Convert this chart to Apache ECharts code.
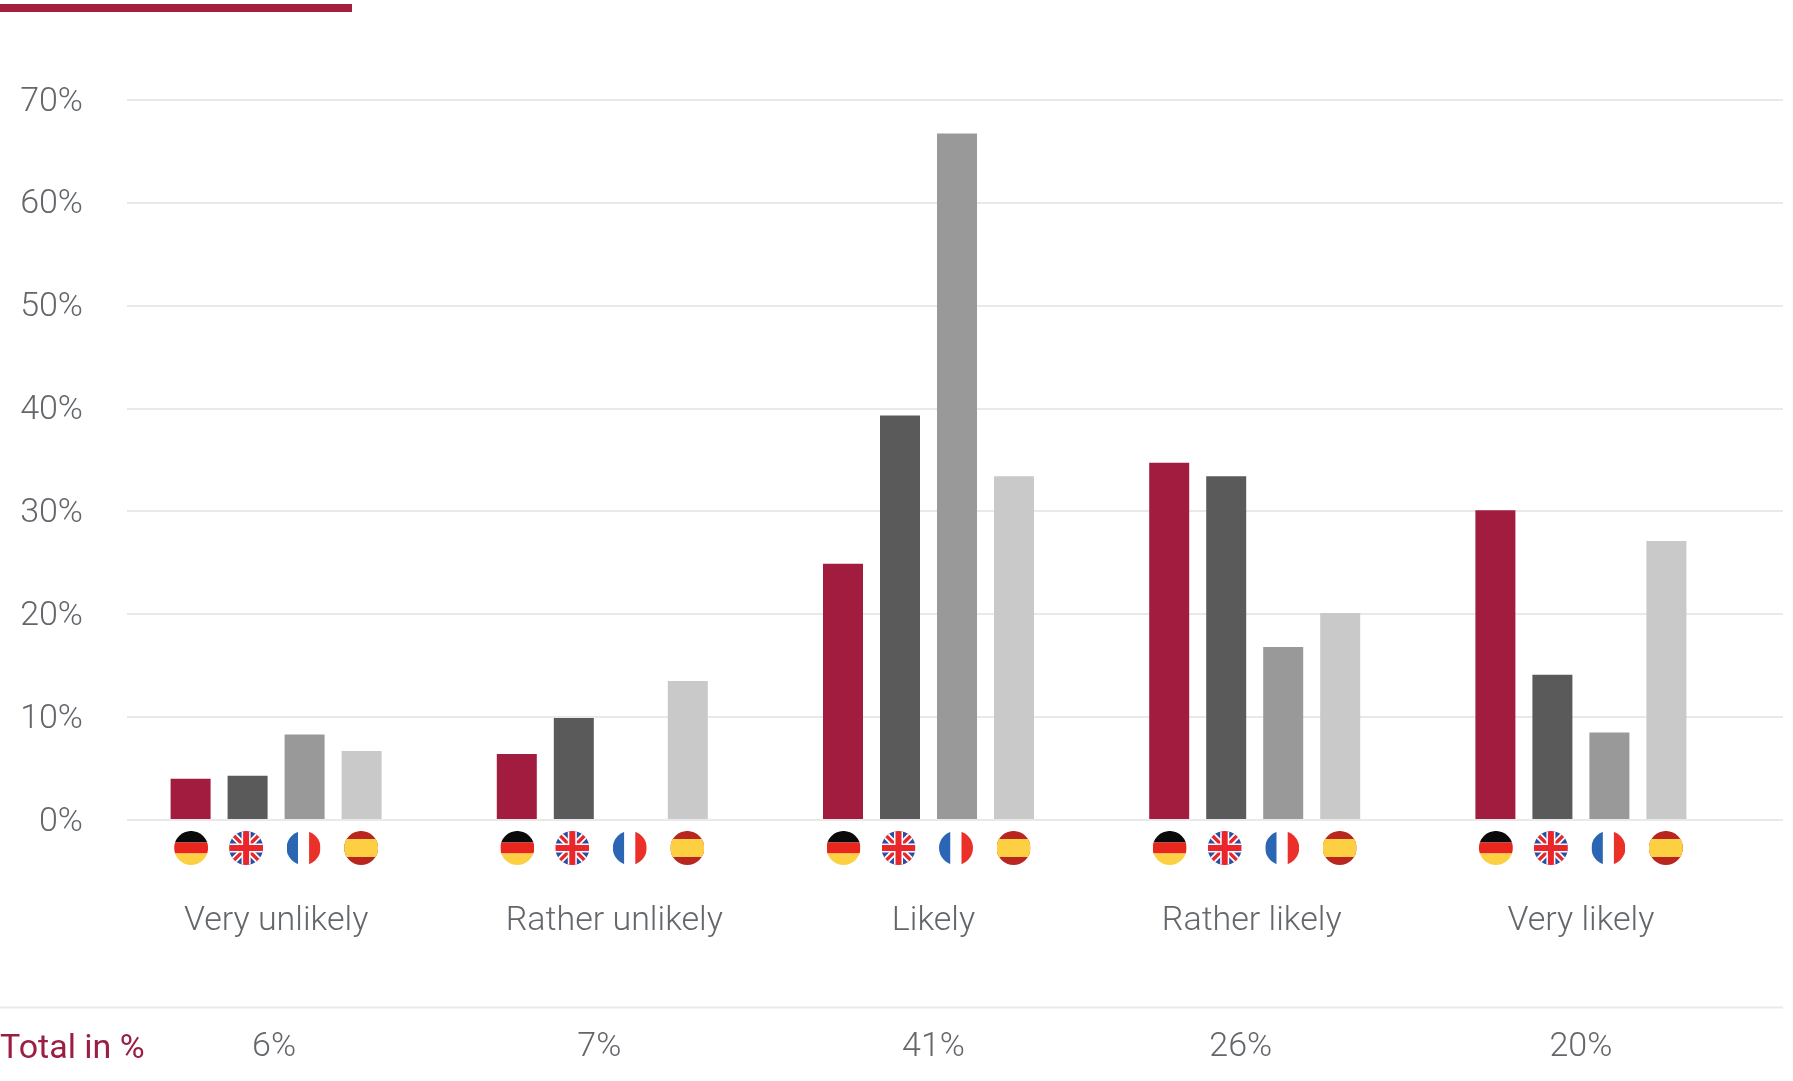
<!DOCTYPE html>
<html>
<head>
<meta charset="utf-8">
<style>html,body{margin:0;padding:0;background:#fff}#c{width:1793px;height:1081px}</style>
<script src="https://cdn.jsdelivr.net/npm/echarts@6/dist/echarts.min.js"></script>
</head>
<body>
<div id="c"></div>
<script>
const categories = ['Very unlikely', 'Rather unlikely', 'Likely', 'Rather likely', 'Very likely'];
const totals = ['6%', '7%', '41%', '26%', '20%'];
const germany = [3.9, 6.3, 24.8, 34.6, 30];
const uk = [4.2, 9.8, 39.2, 33.3, 14];
const france = [8.2, null, 66.6, 16.7, 8.4];
const spain = [6.6, 13.4, 33.3, 20, 27];
const yTicks = [0, 10, 20, 30, 40, 50, 60, 70];

/* layout only */
const catShift = [0, 12, 5, -3, 0];
const catLift = [3, 0, 0, 0, 0];
const totalShift = [-2, -3, 5, -14, 0];
const flagOffsets = [-85, -30, 27.5, 85];
const flagRow = -2.82;

const flagSvg = {
  de: '<rect width="34" height="11.5" fill="#0a0a0a"/><rect y="11.5" width="34" height="11" fill="#e8261d"/><rect y="22.5" width="34" height="11.5" fill="#fdd043"/>',
  uk: '<rect width="34" height="34" fill="#2a4f9f"/><path d="M0 0L34 34M34 0L0 34" stroke="#fff" stroke-width="7"/><path d="M0 0L34 34M34 0L0 34" stroke="#e8262b" stroke-width="3.4"/><path d="M17 0V34M0 17H34" stroke="#fff" stroke-width="9"/><path d="M17 0V34M0 17H34" stroke="#e8262b" stroke-width="6"/>',
  fr: '<rect width="11.5" height="34" fill="#2a66b3"/><rect x="11.5" width="11" height="34" fill="#fff"/><rect x="22.5" width="11.5" height="34" fill="#ea3029"/>',
  es: '<rect width="34" height="34" fill="#b8261f"/><rect y="8" width="34" height="18" fill="#fdd043"/>'
};
function flag(k) {
  const s = '<svg xmlns="http://www.w3.org/2000/svg" width="68" height="68" viewBox="0 0 34 34"><defs><clipPath id="a"><circle cx="17" cy="17" r="17"/></clipPath></defs><g clip-path="url(#a)">' + flagSvg[k] + '</g></svg>';
  return 'image://data:image/svg+xml;charset=utf-8,' + encodeURIComponent(s);
}

const font = 'Roboto';
const grey = '#63666a';
const gridGrey = '#e9e9e9';
const maroon = '#a11c3e';
const barSeries = [
  ['Germany', germany, maroon, 'de'],
  ['United Kingdom', uk, '#5a5a5a', 'uk'],
  ['France', france, '#999999', 'fr'],
  ['Spain', spain, '#c9c9c9', 'es']
];

const chart = echarts.init(document.getElementById('c'), null, {renderer: 'canvas'});
chart.setOption({
  animation: false,
  backgroundColor: '#fff',
  grid: [
    {left: 127, width: 1656, top: 99.5, height: 720.5},
    {left: 113, width: 1631, top: 98.5, height: 802.8}
  ],
  xAxis: [
    {gridIndex: 0, type: 'value', min: 0, max: 1, show: false},
    {
      gridIndex: 1, type: 'category', position: 'bottom',
      data: categories.map((c, i) => ({
        value: c,
        textStyle: {padding: [0, catShift[i] < 0 ? -2 * catShift[i] : 0, catLift[i] * 2, catShift[i] > 0 ? 2 * catShift[i] : 0]}
      })),
      axisLine: {show: false}, axisTick: {show: false},
      axisLabel: {interval: 0, margin: 3, verticalAlign: 'middle', fontFamily: font, fontWeight: 300, fontSize: 34, color: grey}
    },
    {
      gridIndex: 1, type: 'category', position: 'bottom', offset: 126,
      data: totals.map((c, i) => ({
        value: c,
        textStyle: {padding: [0, totalShift[i] < 0 ? -2 * totalShift[i] : 0, 0, totalShift[i] > 0 ? 2 * totalShift[i] : 0]}
      })),
      axisLine: {show: false}, axisTick: {show: false},
      axisLabel: {interval: 0, margin: 3, verticalAlign: 'middle', fontFamily: font, fontWeight: 300, fontSize: 34, color: grey}
    }
  ],
  yAxis: [
    {
      gridIndex: 0, type: 'value', min: yTicks[0], max: yTicks[yTicks.length - 1], interval: 10,
      axisLine: {show: false}, axisTick: {show: false},
      axisLabel: {
        formatter: '{t|{value}%}', margin: 44,
        rich: {t: {padding: [5, 0, 0, 0], fontFamily: font, fontWeight: 300, fontSize: 34, color: grey}}
      },
      splitLine: {show: true, lineStyle: {color: gridGrey, width: 2}}
    },
    {gridIndex: 1, type: 'value', min: -8, max: 70, show: false}
  ],
  series: barSeries.map(([name, values, color]) => ({
    name, type: 'bar', xAxisIndex: 1, yAxisIndex: 1, data: values,
    barWidth: 40, barGap: '42.5%', itemStyle: {color}, silent: true
  })).concat(barSeries.map(([name, values, color, key], i) => ({
    name: name + ' flag', type: 'scatter', xAxisIndex: 1, yAxisIndex: 1,
    data: categories.map(() => flagRow),
    symbol: flag(key), symbolSize: 34, symbolOffset: [flagOffsets[i], 0], itemStyle: {opacity: 1}, silent: true, clip: false
  }))),
  graphic: [
    {type: 'rect', shape: {x: 0, y: 4, width: 352, height: 8}, style: {fill: '#a5203f'}, silent: true},
    {type: 'line', shape: {x1: 0, y1: 1007.5, x2: 1783, y2: 1007.5}, style: {stroke: gridGrey, lineWidth: 2}, silent: true},
    {type: 'text', x: 0, y: 1049, style: {text: 'Total in %', font: '400 34px Roboto', fill: '#9b1f42', verticalAlign: 'middle'}, silent: true}
  ]
});
</script>
</body>
</html>
